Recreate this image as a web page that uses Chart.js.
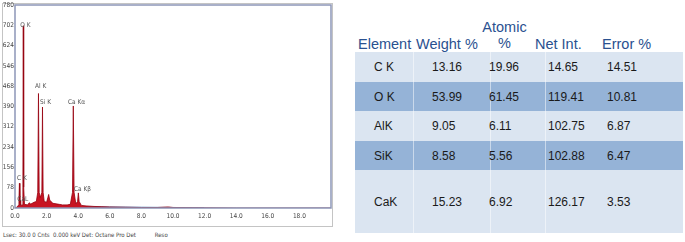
<!DOCTYPE html>
<html>
<head>
<meta charset="utf-8">
<script src="https://cdn.jsdelivr.net/npm/chart.js@4.4.1/dist/chart.umd.min.js"></script>
<style>
  body { margin: 0; background: #fff; font-family: "Liberation Sans", Arial, sans-serif; }
  #wrap { position: relative; width: 685px; height: 242px; overflow: hidden; }
  #specBox { position: absolute; left: 2px; top: 3px; width: 331px; height: 224px; border: 1px solid #c4c4c4; box-sizing: border-box; }
  #specCanvasBox { position: absolute; left: 2px; top: 0; width: 333px; height: 226px; }
  #footer { position: absolute; left: 3px; top: 231px; font: 6px "DejaVu Sans Condensed", sans-serif; color: #444; white-space: pre; }
  .row { position: absolute; left: 355px; width: 328px; }
  .light { background: #dbe5f1; }
  .dark { background: #95b3d7; }
  .hd { position: absolute; color: #2a5190; font-size: 14.5px; line-height: 16px; white-space: nowrap; }
  .cell { position: absolute; color: #1a1a1a; font-size: 12px; line-height: 14px; white-space: nowrap; }
  .sep { position: absolute; width: 1px; background: rgba(255,255,255,0.5); }
</style>
</head>
<body>
<div id="wrap">
  <div id="specBox"></div>
  <div id="specCanvasBox"><canvas id="specChart"></canvas></div>
  <div id="footer">Lsec: 30.0 0 Cnts  0.000 keV Det: Octane Pro Det           Reso</div>
  <div id="table"></div>
</div>
<script>
// spectrum trace (keV, counts)
const energies = [0.0, 0.1, 0.2, 0.25, 0.28, 0.31, 0.33, 0.35, 0.37, 0.45, 0.5, 0.525, 0.55, 0.6, 0.8, 0.9, 1.0, 1.2, 1.35, 1.44, 1.486, 1.53, 1.6, 1.7, 1.74, 1.78, 1.85, 2.0, 2.08, 2.13, 2.2, 2.4, 2.6, 2.8, 3.0, 3.3, 3.5, 3.64, 3.69, 3.74, 3.85, 3.96, 4.01, 4.06, 4.2, 4.5, 5.0, 5.5, 6.0, 7.0, 8.0, 9.0, 9.7, 10.0, 12.0, 14.0, 20.0];
const counts = [0, 2, 10, 30, 95, 20, 12, 30, 10, 12, 80, 700, 80, 14, 12, 20, 15, 22, 25, 60, 440, 60, 40, 60, 388, 60, 25, 22, 40, 52, 30, 18, 16, 14, 12, 12, 14, 60, 392, 60, 16, 25, 58, 25, 10, 8, 6, 5, 4, 3, 2, 2, 4, 2, 1, 0, 0];

// background fit line (keV, counts)
const bgEnergies = [0.2, 1.0, 2.0, 4.0, 6.0, 8.0, 10.0, 12.0];
const bgCounts = [3, 6, 6, 5, 4, 3, 2, 1];

// peak labels: name, energy, counts at label baseline
const peakNames = ["O K", "Al K", "Si K", "Ca K\u03b1", "C K", "Ca K\u03b2", "CaL"];
const peakEnergy = [0.33, 1.27, 1.58, 3.35, 0.13, 3.73, 0.15];
const peakCounts = [690, 455, 395, 395, 100, 60, 20];

// table data
const tableHeaders = ["Element", "Weight %", "Atomic\n%", "Net Int.", "Error %"];
const elements = ["C K", "O K", "AlK", "SiK", "CaK"];
const weightPct = ["13.16", "53.99", "9.05", "8.58", "15.23"];
const atomicPct = ["19.96", "61.45", "6.11", "5.56", "6.92"];
const netInt = ["14.65", "119.41", "102.75", "102.88", "126.17"];
const errorPct = ["14.51", "10.81", "6.87", "6.47", "3.53"];

const yTickStep = 78;
const yMax = 780;

const tickFont = { family: "'DejaVu Sans Condensed', sans-serif", size: 6.5 };

const frame = {
    id: "frame",
    afterDraw(chart) {
        const { ctx, chartArea: a } = chart;
        ctx.save();
        ctx.strokeStyle = "#8d97b8";
        ctx.lineWidth = 1.5;
        ctx.strokeRect(a.left, a.top, a.right - a.left, a.bottom - a.top);
        ctx.fillStyle = "#555";
        ctx.font = "6.5px 'DejaVu Sans Condensed', sans-serif";
        ctx.textBaseline = "bottom";
        const xs = chart.scales.x, ys = chart.scales.y;
        peakNames.forEach((n, i) => {
            ctx.fillText(n, xs.getPixelForValue(peakEnergy[i]), ys.getPixelForValue(peakCounts[i]));
        });
        ctx.restore();
    }
};

new Chart(document.getElementById("specChart"), {
    type: "scatter",
    data: {
        datasets: [
            {
                data: energies.map((e, i) => ({ x: e, y: counts[i] })),
                showLine: true,
                fill: "origin",
                backgroundColor: "rgb(200,20,35)",
                borderColor: "rgb(150,0,15)",
                borderWidth: 0.8,
                pointRadius: 0,
                tension: 0,
            },
            {
                data: bgEnergies.map((e, i) => ({ x: e, y: bgCounts[i] })),
                showLine: true,
                fill: false,
                borderColor: "rgb(90,150,210)",
                borderWidth: 1,
                pointRadius: 0,
            },
        ],
    },
    options: {
        responsive: true,
        maintainAspectRatio: false,
        animation: false,
        layout: { padding: { top: 5, right: 1, left: 0, bottom: 0 } },
        plugins: { legend: { display: false }, tooltip: { enabled: false } },
        scales: {
            x: {
                type: "linear",
                min: 0,
                max: 20,
                grid: { display: false, drawTicks: false },
                border: { display: false },
                ticks: {
                    stepSize: 2,
                    font: tickFont,
                    color: "#444",
                    padding: 4,
                    maxRotation: 0,
                    callback: (v) => (v < 20 ? v.toFixed(1) : ""),
                },
                afterFit: (s) => { s.height = 18; },
            },
            y: {
                min: 0,
                max: yMax,
                grid: { display: false, drawTicks: false },
                border: { display: false },
                ticks: { stepSize: yTickStep, font: tickFont, color: "#444", padding: 1 },
                afterFit: (s) => { s.width = 13; },
            },
        },
    },
    plugins: [frame],
});

// table
const tbl = document.getElementById("table");
const rowTops = [52, 82, 111, 141, 170];
const rowBottoms = [82, 111, 141, 170, 233];
const colLefts = [374, 432, 489, 548, 607];
rowTops.forEach((t, i) => {
    const r = document.createElement("div");
    r.className = "row " + (i % 2 === 1 ? "dark" : "light");
    r.style.top = t + "px";
    r.style.height = (rowBottoms[i] - t) + "px";
    tbl.appendChild(r);
});
[413, 490, 545].forEach((x) => {
    const s = document.createElement("div");
    s.className = "sep";
    s.style.left = x + "px";
    s.style.top = "52px";
    s.style.height = "181px";
    tbl.appendChild(s);
});
const hdLefts = [358, 416, 482, 535, 602];
tableHeaders.forEach((h, i) => {
    const d = document.createElement("div");
    d.className = "hd";
    d.style.left = hdLefts[i] + "px";
    if (h.includes("\n")) {
        d.style.top = "19px";
        d.style.textAlign = "center";
        d.style.width = "45px";
        d.innerHTML = h.replace("\n", "<br>");
    } else {
        d.style.top = "36px";
        d.textContent = h;
    }
    tbl.appendChild(d);
});
const cols = [elements, weightPct, atomicPct, netInt, errorPct];
rowTops.forEach((t, i) => {
    const mid = (t + rowBottoms[i]) / 2;
    cols.forEach((col, j) => {
        const d = document.createElement("div");
        d.className = "cell";
        d.style.left = colLefts[j] + "px";
        d.style.top = (mid - 7) + "px";
        d.textContent = col[i];
        tbl.appendChild(d);
    });
});
</script>
</body>
</html>
